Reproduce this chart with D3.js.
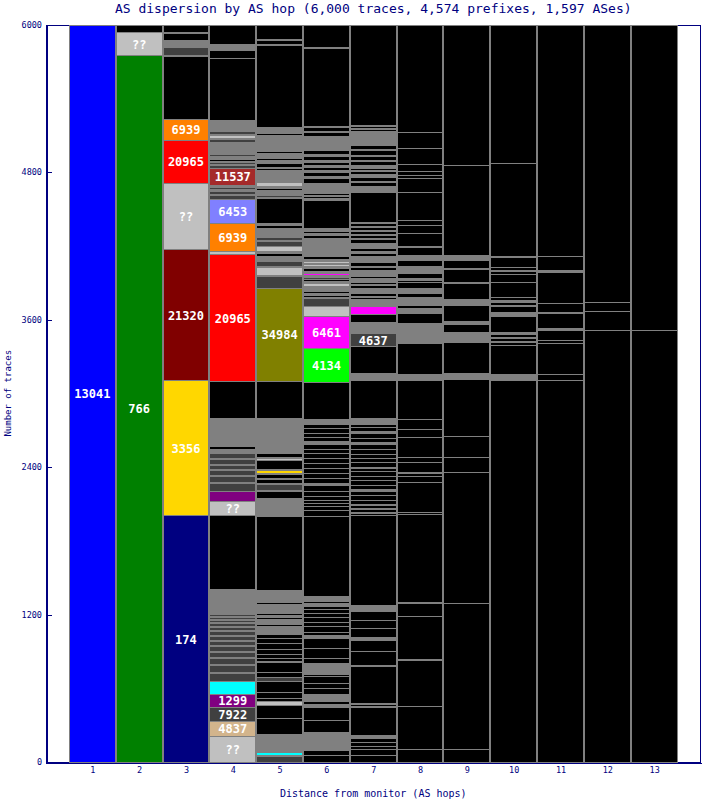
<!DOCTYPE html>
<html><head><meta charset="utf-8">
<script src="https://cdn.jsdelivr.net/npm/d3@7/dist/d3.min.js"></script>
<style>body{margin:0;background:#fff}svg{display:block}</style>
</head><body>
<script>
// ---- data (traces per AS segment, bottom-up per hop) ----
const title = "AS dispersion by AS hop (6,000 traces, 4,574 prefixes, 1,597 ASes)";
const xTitle = "Distance from monitor (AS hops)";
const yTitle = "Number of traces";
const hops = [1,2,3,4,5,6,7,8,9,10,11,12,13];
const yTicks = [0,1200,2400,3600,4800,6000];

const hop1 = [[6000,"blue","13041"]];
const hop2 = [[5752,"green","766"],[183,"l","??"],[65,"k"]];
const hop3 = [[2009,"navy","174"],[1098,"gold","3356"],[1066,"maroon","21320"],[541,"l","??"],[346,"red","20965"],[173,"orange","6939"],
 [513,"k"],[8,"g"],[65,"d"],[8,"g"],[8,"k"],[8,"g"],[8,"k"],[24,"g"],[57,"k"],[8,"g"],[60,"k"]];
const hop4 = [[212,"l","??"],[122,"tan","4837"],[114,"d","7922"],[106,"purple","1299"],[102,"cyan"],
 [65,"d"],[8,"g"],[57,"d"],[8,"g"],[49,"d"],[8,"g"],[45,"d"],[8,"g"],[41,"d"],[8,"g"],[33,"d"],[8,"g"],[33,"d"],[8,"g"],[28,"d"],[8,"g"],[24,"d"],[8,"g"],[24,"d"],[8,"g"],[20,"d"],[8,"g"],[16,"d"],[8,"g"],[16,"d"],[8,"g"],
 [195,"g"],[602,"k"],[112,"l","??"],[88,"purple"],
 [60,"d"],[8,"g"],[48,"d"],[8,"g"],[40,"d"],[8,"g"],[40,"d"],[8,"g"],[40,"d"],[8,"g"],[40,"d"],[8,"g"],[8,"cyan"],[16,"g"],[20,"k"],[43,"g"],
 [187,"g"],[301,"k"],[1033,"red","20965"],[28,"l"],[226,"orange","6939"],[194,"periwinkle","6453"],
 [32,"d"],[8,"g"],[24,"d"],[16,"g"],[16,"d"],[18,"g"],
 [140,"brown","11537"],
 [24,"d"],[8,"g"],[16,"d"],[8,"g"],[16,"k"],[8,"g"],[12,"k"],[8,"g"],[12,"d"],[88,"g"],
 [8,"g"],[28,"d"],[8,"g"],[22,"l"],[8,"g"],[28,"d"],[83,"g"],
 [507,"k"],[68,"k"],[49,"g"],[157,"k"]];
const hop5 = [[45,"d"],[8,"g"],[27,"cyan"],[150,"g"],
 [129,"k"],[106,"k"],[28,"l"],[24,"k"],[49,"k"],[90,"k"],[33,"d"],[41,"k"],[81,"k"],[12,"l"],[24,"k"],[33,"k"],[41,"k"],[49,"k"],[41,"k"],[33,"k"],
 [60,"g"],[16,"k"],[16,"g"],[12,"k"],[16,"g"],[12,"k"],[24,"g"],[16,"k"],[70,"g"],[12,"k"],[60,"g"],[10,"k"],[34,"g"],
 [602,"k"],[16,"g"],[8,"k"],[122,"g"],[57,"k"],[8,"g"],[49,"d"],
 [8,"g"],[33,"k"],[8,"g"],[33,"k"],[8,"g"],[20,"gold"],[12,"g"],[70,"k"],[16,"l"],[8,"g"],[33,"k"],[24,"g"],[12,"k"],[61,"g"],
 [100,"g"],[8,"k"],[79,"g"],[301,"k"],[761,"olive","34984"],
 [93,"d"],[8,"g"],[71,"l"],[8,"g"],[37,"d"],[16,"g"],[11,"orange"],[16,"g"],[24,"k"],[12,"g"],[43,"l"],[38,"d"],[8,"g"],[28,"d"],[40,"g"],[8,"d"],[25,"g"],[24,"k"],[16,"g"],[200,"k"],
 [12,"g"],[12,"d"],[24,"g"],[8,"k"],[12,"g"],[16,"k"],[20,"g"],[27,"l"],[8,"d"],[91,"g"],[16,"k"],[8,"g"],[35,"k"],[8,"g"],[10,"k"],[8,"g"],[12,"k"],[40,"g"],[16,"k"],[32,"g"],[10,"k"],[55,"g"],[8,"d"],[32,"g"],[14,"k"],[46,"g"],
 [670,"k"],[8,"g"],[27,"k"],[8,"g"],[122,"k"]];
const hop6 = [[57,"k"],[41,"k"],[149,"g"],[95,"k"],[108,"k"],[24,"g"],[24,"k"],[54,"g"],
 [47,"k"],[47,"k"],[54,"k"],[16,"k"],[91,"g"],[41,"k"],[81,"k"],[81,"k"],
 [27,"g"],[24,"k"],[49,"k"],[33,"k"],[35,"k"],[33,"k"],[35,"k"],[27,"k"],[20,"g"],
 [16,"k"],[16,"g"],[12,"k"],[10,"g"],[651,"k"],
 [55,"k"],[33,"k"],[24,"k"],[24,"k"],[33,"k"],[41,"k"],[49,"k"],[16,"g"],[41,"k"],[41,"k"],[33,"k"],[41,"k"],[41,"k"],[41,"k"],[33,"k"],[41,"k"],[24,"g"],[33,"k"],[33,"k"],[41,"k"],[33,"k"],[41,"g"],
 [301,"k"],[275,"lime","4134"],[262,"magenta","6461"],[81,"l"],
 [68,"d"],[8,"g"],[16,"k"],[12,"g"],[16,"k"],[16,"g"],[12,"k"],[16,"g"],[20,"l"],[24,"g"],[16,"k"],[16,"d"],[12,"g"],[20,"magenta"],[16,"g"],[24,"k"],[16,"g"],[16,"l"],[8,"g"],[12,"l"],[16,"g"],[24,"k"],[16,"g"],[95,"g"],
 [40,"g"],[24,"k"],[16,"g"],[16,"k"],[24,"g"],[227,"k"],[16,"g"],[16,"k"],[8,"g"],[16,"k"],[16,"g"],[65,"g"],[40,"k"],[16,"g"],[40,"k"],[16,"g"],[24,"k"],[16,"g"],[24,"k"],[16,"g"],[33,"k"],[16,"g"],[33,"k"],[16,"g"],[98,"g"],[33,"k"],[8,"g"],[33,"k"],[8,"g"],
 [635,"k"],[8,"g"],[179,"k"]];
const hop7 = [[57,"k"],[46,"k"],[27,"k"],[35,"k"],[30,"k"],[24,"g"],[228,"k"],[8,"g"],[16,"k"],[8,"g"],[300,"k"],[14,"g"],[106,"k"],[95,"k"],[27,"g"],[68,"k"],[68,"k"],[68,"k"],[54,"g"],[730,"k"],
 [16,"k"],[8,"g"],[24,"k"],[8,"g"],[24,"k"],[8,"g"],[34,"k"],
 [41,"k"],[33,"k"],[12,"g"],[33,"k"],[41,"k"],[33,"k"],[41,"k"],[24,"k"],[12,"g"],[41,"k"],[33,"k"],[33,"k"],[41,"k"],[41,"k"],[16,"g"],[33,"k"],[41,"k"],[12,"g"],[33,"k"],[24,"k"],[47,"g"],
 [312,"k"],[16,"g"],[12,"l"],[27,"g"],[222,"k"],[104,"d","4637"],[22,"g"],[68,"g"],[68,"k"],[62,"magenta"],
 [54,"g"],[24,"k"],[8,"g"],[24,"k"],[41,"g"],[24,"k"],[8,"g"],[16,"k"],[30,"g"],[12,"k"],[54,"g"],[24,"k"],[8,"g"],[33,"k"],[8,"g"],[41,"g"],[24,"k"],[16,"g"],[24,"k"],[41,"g"],
 [33,"k"],[8,"g"],[24,"k"],[8,"g"],[24,"k"],[8,"g"],[24,"k"],[8,"g"],[24,"k"],[12,"g"],[240,"k"],[8,"g"],[12,"k"],[12,"g"],[12,"k"],[8,"g"],[33,"k"],[8,"g"],[33,"k"],[24,"g"],
 [24,"k"],[8,"g"],[16,"k"],[24,"g"],[33,"k"],[8,"g"],[33,"k"],[8,"g"],[41,"k"],[8,"g"],[33,"k"],[20,"g"],[36,"g"],[8,"k"],[45,"g"],[16,"k"],[8,"g"],[16,"k"],[8,"g"],
 [821,"k"]];
const hop8 = [[103,"k"],[352,"k"],[374,"k"],[8,"g"],[350,"k"],[103,"k"],[14,"g"],[713,"k"],[19,"k"],[244,"k"],[46,"k"],[22,"k"],[14,"g"],
 [81,"k"],[41,"k"],[163,"k"],[60,"k"],[81,"k"],[320,"k"],[49,"g"],[250,"k"],[8,"g"],[8,"l"],[12,"d"],[57,"g"],[8,"k"],[73,"g"],[81,"k"],[41,"g"],[24,"k"],[65,"g"],[33,"k"],[41,"g"],[49,"k"],
 [16,"k"],[14,"g"],[41,"k"],[54,"g"],[54,"k"],[41,"g"],[60,"k"],[14,"g"],[106,"k"],[65,"k"],[41,"k"],[227,"k"],[114,"k"],[19,"k"],[35,"k"],[55,"k"],[130,"k"],[129,"k"],[878,"k"]];
const hop9 = [[103,"k"],[1188,"k"],[1071,"k"],[120,"k"],[173,"k"],[460,"k"],[49,"g"],[250,"k"],[81,"g"],[68,"k"],[27,"g"],[130,"k"],[8,"g"],[41,"g"],[130,"k"],
 [8,"g"],[100,"k"],[8,"g"],[66,"k"],[41,"g"],[733,"k"],[1145,"k"]];
const hop10 = [[3108,"k"],[49,"g"],[236,"k"],[24,"k"],[8,"g"],[24,"k"],[8,"g"],[24,"k"],[20,"g"],[130,"k"],[33,"g"],[49,"k"],[8,"g"],
 [24,"k"],[12,"g"],[24,"k"],[125,"k"],[65,"k"],[22,"k"],[12,"g"],[20,"k"],[81,"k"],[12,"g"],[752,"k"],[1130,"k"]];
const hop11 = [[3108,"k"],[49,"k"],[252,"k"],[24,"k"],[82,"k"],[12,"g"],[130,"k"],[8,"g"],[73,"k"],[250,"k"],[16,"g"],[109,"k"],[1887,"k"]];
const hop12 = [[3514,"k"],[158,"k"],[73,"k"],[2255,"k"]];
const hop13 = [[3514,"k"],[2486,"k"]];
const columns = [hop1,hop2,hop3,hop4,hop5,hop6,hop7,hop8,hop9,hop10,hop11,hop12,hop13];

const segColors = {k:"#000000",g:"#808080",d:"#404040",l:"#c0c0c0",blue:"#0000ff",green:"#008000",navy:"#000080",
  gold:"#ffd700",maroon:"#800000",red:"#ff0000",orange:"#ff8000",brown:"#a52a2a",periwinkle:"#8080ff",olive:"#808000",
  magenta:"#ff00ff",lime:"#00ff00",cyan:"#00ffff",purple:"#800080",tan:"#d2b48c"};

// ---- drawing ----
const W = 702, H = 800, ink = "#000080", mono = "'DejaVu Sans Mono', 'Liberation Mono', monospace";
const svg = d3.select("body").append("svg").attr("width", W).attr("height", H);
svg.append("rect").attr("width", W).attr("height", H).attr("fill", "#fff");

const x = d3.scaleLinear().domain([0, 14]).range([45.5, 701]);
const y = d3.scaleLinear().domain([0, 6000]).range([762, 24.5]);

// frame
svg.append("rect").attr("x", Math.round(x(0)) + 0.5).attr("y", Math.round(y(6000)) + 0.5)
  .attr("width", Math.round(x(14)) - Math.round(x(0)) - 1).attr("height", Math.round(y(0)) - Math.round(y(6000)))
  .attr("fill", "none").attr("stroke", ink).attr("shape-rendering", "crispEdges");

const segs = [];
columns.forEach((col, i) => {
  let cum = 0;
  col.forEach(([v, c, lab]) => { segs.push({hop: hops[i], y0: cum, y1: cum + v, c, lab}); cum += v; });
});

const g = svg.append("g");
g.selectAll("rect").data(segs).join("rect")
  .attr("x", d => Math.round(x(d.hop - 0.5)) + 0.5)
  .attr("width", d => Math.round(x(d.hop + 0.5)) - Math.round(x(d.hop - 0.5)) - 1)
  .attr("y", d => Math.round(y(d.y1)) + 0.5)
  .attr("height", d => Math.max(1, Math.round(y(d.y0)) - Math.round(y(d.y1))))
  .attr("fill", d => segColors[d.c])
  .attr("stroke", "#808080").attr("stroke-width", 1)
  .attr("shape-rendering", "crispEdges");

g.selectAll("text").data(segs.filter(d => d.lab)).join("text")
  .attr("x", d => x(d.hop))
  .attr("y", d => (y(d.y0) + y(d.y1)) / 2 + 1)
  .attr("text-anchor", "middle").attr("dominant-baseline", "central")
  .attr("fill", "#fff").attr("font-family", mono).attr("font-weight", "bold").attr("font-size", 12)
  .text(d => d.lab);

// axes
const yAxis = d3.axisLeft(y).tickValues(yTicks).tickSize(-5).tickSizeOuter(0).tickPadding(4.5).tickFormat(d3.format("d"));
const ya = svg.append("g").attr("transform", `translate(${Math.round(x(0)) + 0.5},0)`).call(yAxis);
ya.selectAll("path,line").attr("stroke", ink).attr("shape-rendering", "crispEdges");
ya.selectAll("text").attr("fill", ink).attr("font-family", mono).attr("font-size", 8.5);

const xAxis = d3.axisBottom(x).tickValues(hops).tickSize(0).tickSizeOuter(0).tickPadding(4).tickFormat(d3.format("d"));
const xa = svg.append("g").attr("transform", `translate(0,${Math.round(y(0)) + 0.5})`).call(xAxis);
xa.selectAll("path").attr("stroke", ink).attr("shape-rendering", "crispEdges");
xa.selectAll("text").attr("fill", ink).attr("font-family", mono).attr("font-size", 8.5);

// titles
svg.append("text").attr("x", (x(0) + x(14)) / 2).attr("y", 8.5).attr("text-anchor", "middle").attr("dominant-baseline", "central")
  .attr("fill", ink).attr("font-family", mono).attr("font-size", 13).text(title);
svg.append("text").attr("x", (x(0) + x(14)) / 2).attr("y", 793.5).attr("text-anchor", "middle").attr("dominant-baseline", "central")
  .attr("fill", ink).attr("font-family", mono).attr("font-size", 10).text(xTitle);
svg.append("text").attr("transform", `translate(7.5,${(y(0) + y(6000)) / 2}) rotate(-90)`).attr("text-anchor", "middle").attr("dominant-baseline", "central")
  .attr("fill", ink).attr("font-family", mono).attr("font-size", 9).text(yTitle);
</script>
</body></html>
